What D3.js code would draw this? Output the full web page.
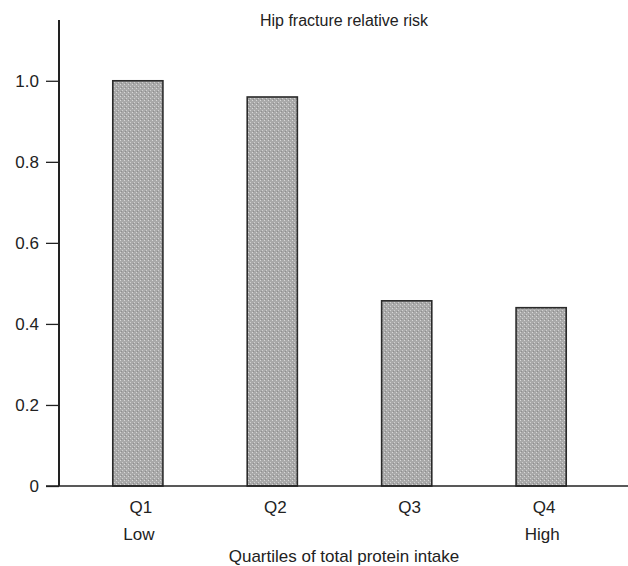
<!DOCTYPE html>
<html><head><meta charset="utf-8">
<script src="https://cdn.jsdelivr.net/npm/d3@7"></script>
<style>body{margin:0;background:#fff}svg{display:block;font-family:"Liberation Sans",Arial,sans-serif}</style>
</head><body>
<script>
const categories = ["Q1","Q2","Q3","Q4"];
const subLabels = ["Low","","","High"];
const values = [1.0, 0.96, 0.457, 0.44];
const yTicks = [0, 0.2, 0.4, 0.6, 0.8, 1.0];
const yTickLabels = ["0","0.2","0.4","0.6","0.8","1.0"];
const title = "Hip fracture relative risk";
const xTitle = "Quartiles of total protein intake";

const W = 628, H = 566;
const svg = d3.select("body").append("svg").attr("width", W).attr("height", H);
const defs = svg.append("defs");
const pat = defs.append("pattern").attr("id","dots").attr("patternUnits","userSpaceOnUse")
  .attr("width",4).attr("height",4);
pat.append("rect").attr("width",4).attr("height",4).attr("fill","#a9a9a9");
pat.append("rect").attr("x",0).attr("y",0).attr("width",1).attr("height",1).attr("fill","#d8d8d8");
pat.append("rect").attr("x",2).attr("y",2).attr("width",1).attr("height",1).attr("fill","#d0d0d0");
pat.append("rect").attr("x",1).attr("y",3).attr("width",1).attr("height",1).attr("fill","#8e8e8e");

const x = d3.scaleBand().domain(categories).range([59, 620]).paddingInner(0.627).paddingOuter(0.4);
const y = d3.scaleLinear().domain([0, 1.15]).range([486, 20]);

// bars
svg.append("g").selectAll("rect").data(values).join("rect")
  .attr("x",(d,i)=>x(categories[i]))
  .attr("y",d=>y(d))
  .attr("width",x.bandwidth())
  .attr("height",d=>y(0)-y(d))
  .attr("fill","url(#dots)")
  .attr("stroke","#2a2a2a").attr("stroke-width",1.6);

// y axis
const yAxis = d3.axisLeft(y).tickValues(yTicks).tickFormat((d,i)=>yTickLabels[i]).tickSize(13).tickPadding(7);
const gy = svg.append("g").attr("transform","translate(59,0)").call(yAxis);
gy.select(".domain").remove();
gy.selectAll(".tick line").attr("stroke","#222").attr("stroke-width",1.3);
gy.selectAll(".tick text").attr("font-size",17).attr("fill","#222").attr("font-family","Liberation Sans, Arial, sans-serif");
svg.append("line").attr("x1",59).attr("x2",59).attr("y1",y(1.15)).attr("y2",y(0)).attr("stroke","#222").attr("stroke-width",2);
svg.append("line").attr("x1",46).attr("x2",628).attr("y1",y(0)).attr("y2",y(0)).attr("stroke","#222").attr("stroke-width",1.5);

// x labels
const xAxis = d3.axisBottom(x).tickSize(0).tickPadding(0);
const gx = svg.append("g").attr("transform","translate(3,513)").call(xAxis);
gx.select(".domain").remove();
gx.selectAll(".tick text").attr("dy",0).attr("font-size",17).attr("fill","#222").attr("font-family","Liberation Sans, Arial, sans-serif");

svg.append("g").selectAll("text").data(subLabels).join("text")
  .attr("x",(d,i)=>x(categories[i])+x.bandwidth()/2+1).attr("y",540)
  .attr("text-anchor","middle").attr("font-size",17).attr("fill","#222").text(d=>d);

svg.append("text").attr("x",344).attr("y",562).attr("text-anchor","middle")
  .attr("font-size",17).attr("fill","#222").text(xTitle);
svg.append("text").attr("x",344).attr("y",26).attr("text-anchor","middle")
  .attr("font-size",16).attr("fill","#222").text(title);
</script>
</body></html>
